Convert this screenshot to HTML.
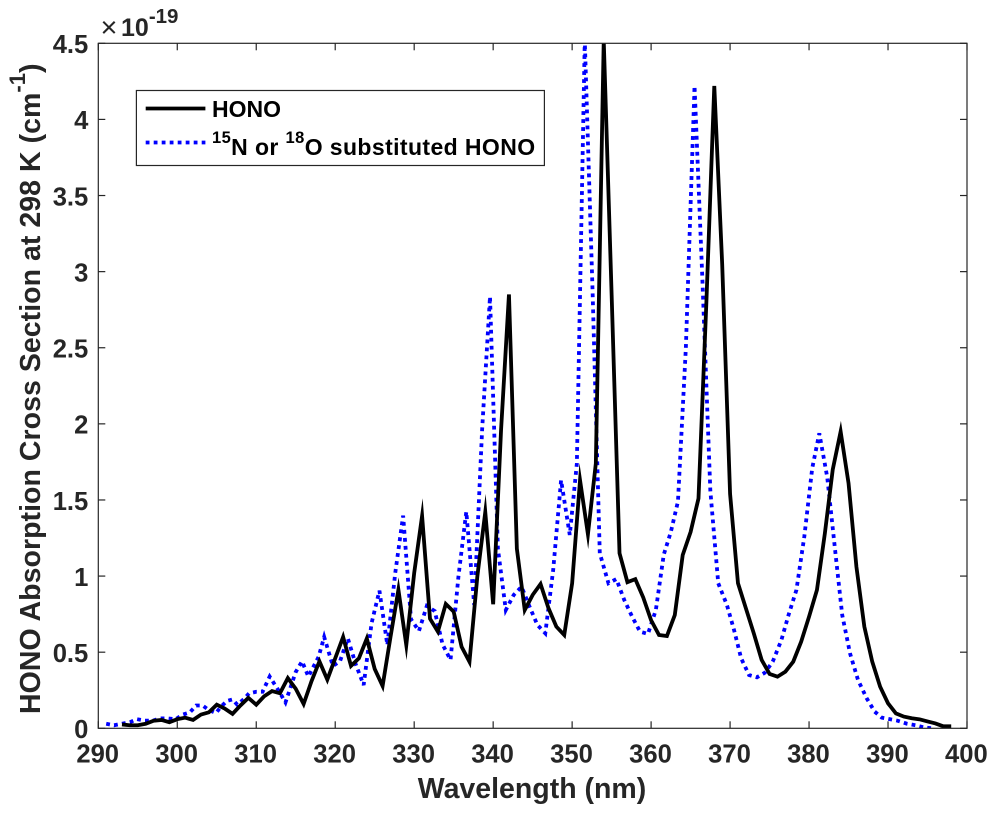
<!DOCTYPE html>
<html>
<head>
<meta charset="utf-8">
<title>HONO Absorption Cross Section</title>
<style>
html,body{margin:0;padding:0;background:#fff;width:997px;height:814px;overflow:hidden}
svg{display:block}
text{font-family:"Liberation Sans",Arial,sans-serif;font-weight:bold}
.tick{font-size:25.6px;fill:#262626}
.title{font-size:28.5px;fill:#262626}
.leg{font-size:23px;fill:#000}
</style>
</head>
<body>
<svg id="chart" width="997" height="814" viewBox="0 0 997 814" xmlns="http://www.w3.org/2000/svg">
  <defs>
    <clipPath id="plot-clip"><rect x="98.3" y="43.3" width="868.7" height="685"/></clipPath>
  </defs>
  <rect x="0" y="0" width="997" height="814" fill="#fff"/>
  <g id="ticks"></g>
  <g id="series" clip-path="url(#plot-clip)"></g>
  <rect x="98.3" y="43.3" width="868.7" height="685" fill="none" stroke="#262626" stroke-width="1.2"/>

  <text x="100.5" y="37" font-size="29" style="font-weight:normal;fill:#262626">×</text>
  <text x="121" y="36" font-size="25" fill="#262626">10<tspan font-size="20.5" dy="-13">-19</tspan></text>

  <text class="title" x="532" y="798" text-anchor="middle">Wavelength (nm)</text>
  <text class="title" transform="translate(40,714) rotate(-90)" text-anchor="start" style="letter-spacing:0.04px">HONO Absorption Cross Section at 298 K (cm<tspan font-size="22" dy="-15">-1</tspan><tspan dy="15">)</tspan></text>

  <g>
    <rect x="136.4" y="90.5" width="408" height="75" fill="#fff" stroke="#262626" stroke-width="1.2"/>
    <line x1="145.7" y1="108.5" x2="205.4" y2="108.5" stroke="#000" stroke-width="3.8"/>
    <text class="leg" x="212" y="117">HONO</text>
    <line x1="145.7" y1="142.5" x2="205.4" y2="142.5" stroke="#0000ff" stroke-width="3.8" stroke-dasharray="3.8 4.2"/>
    <text class="leg" x="212" y="155" style="letter-spacing:0.4px"><tspan font-size="16.5" dy="-12">15</tspan><tspan dy="12">N or </tspan><tspan font-size="16.5" dy="-12">18</tspan><tspan dy="12">O substituted HONO</tspan></text>
  </g>
</svg>
<script>
var xTickLabels = [290,300,310,320,330,340,350,360,370,380,390,400];
var yTickLabels = [0,0.5,1,1.5,2,2.5,3,3.5,4,4.5];

var honoWavelengths = [293,294,295,296,297,298,299,300,301,302,303,304,305,306,307,308,309,310,311,312,313,314,315,316,317,318,319,320,321,322,323,324,325,326,327,328,329,330,331,332,333,334,335,336,337,338,339,340,341,342,343,344,345,346,347,348,349,350,351,352,353,354,355,356,357,358,359,360,361,362,363,364,365,366,367,368,369,370,371,372,373,374,375,376,377,378,379,380,381,382,383,384,385,386,387,388,389,390,391,392,393,394,395,396,397,398];
var honoValues = [0.025,0.02,0.02,0.03,0.05,0.055,0.04,0.06,0.07,0.055,0.09,0.105,0.155,0.13,0.095,0.15,0.2,0.155,0.21,0.245,0.23,0.33,0.26,0.16,0.31,0.44,0.32,0.46,0.6,0.41,0.46,0.59,0.39,0.278,0.6,0.91,0.547,1.02,1.395,0.72,0.635,0.817,0.766,0.536,0.437,1.0,1.42,0.815,1.96,2.85,1.18,0.777,0.876,0.948,0.79,0.668,0.613,0.953,1.63,1.275,1.74,4.52,2.85,1.15,0.96,0.98,0.86,0.71,0.613,0.606,0.744,1.138,1.29,1.51,2.8,4.22,3.05,1.54,0.953,0.788,0.624,0.449,0.357,0.339,0.372,0.438,0.569,0.733,0.909,1.28,1.7,1.949,1.61,1.06,0.668,0.438,0.273,0.164,0.098,0.077,0.066,0.059,0.045,0.032,0.013,0.013];

var substitutedWavelengths = [291,292,293,294,294.9,295.9,296.9,297.8,298.8,299.8,300.7,301.6,302.4,303.2,304,304.9,305.5,306.3,307,307.6,308.4,309.1,310,310.8,311.7,312.8,313.7,315,315.8,316.6,317.9,318.6,319.7,320.6,321.6,322.6,323.6,324.6,325.6,326.6,327.6,328.6,329.6,330.6,331.6,332.6,333.6,334.6,335.6,336.6,337.6,338.6,339.6,340.6,341.6,342.6,343.6,344.6,345.6,346.6,347.6,348.6,349.7,350.6,351.6,352.6,353.5,354.6,355.6,356.6,357.6,358.6,359.6,360.6,361.6,362.5,363.4,364.4,365.5,366.5,367.5,368.5,369.6,370.5,371.4,372.4,373.4,374.4,375.4,376.5,377.4,378.4,379.4,380.4,381.3,382.3,383.3,384.2,385.2,386.2,387.3,388.3,389.2,390.2,391.2,392.4,393.5,394.6,395.6];
var substitutedValues = [0.03,0.02,0.03,0.04,0.06,0.05,0.05,0.065,0.065,0.06,0.09,0.105,0.15,0.15,0.12,0.1,0.14,0.18,0.19,0.155,0.19,0.23,0.24,0.24,0.34,0.25,0.17,0.37,0.44,0.34,0.47,0.6,0.41,0.44,0.59,0.42,0.284,0.69,0.904,0.547,1.02,1.397,0.716,0.639,0.804,0.77,0.55,0.449,0.996,1.423,0.81,1.96,2.836,1.18,0.777,0.876,0.93,0.8,0.679,0.624,1.04,1.63,1.27,1.74,4.52,2.85,1.15,0.953,0.98,0.843,0.733,0.635,0.62,0.777,1.14,1.29,1.49,2.5,4.22,2.94,1.56,0.953,0.81,0.646,0.46,0.35,0.335,0.365,0.438,0.58,0.744,0.909,1.26,1.708,1.938,1.65,1.17,0.744,0.49,0.317,0.197,0.11,0.07,0.06,0.05,0.03,0.02,0.005,0];

var SVG_NS = 'http://www.w3.org/2000/svg';
var plotLeft = 98.3, plotRight = 967, plotTop = 43.3, plotBottom = 728.3;
var xMin = 290, xMax = 400, yMin = 0, yMax = 4.5;

function xScale(v){ return plotLeft + (v - xMin) / (xMax - xMin) * (plotRight - plotLeft); }
function yScale(v){ return plotBottom - (v - yMin) / (yMax - yMin) * (plotBottom - plotTop); }

function tickLine(parent, x1, y1, x2, y2){
  var l = document.createElementNS(SVG_NS, 'line');
  l.setAttribute('x1', x1);
  l.setAttribute('y1', y1);
  l.setAttribute('x2', x2);
  l.setAttribute('y2', y2);
  l.setAttribute('stroke', '#262626');
  l.setAttribute('stroke-width', '1.2');
  
  
  parent.appendChild(l);
}

function tickLabel(parent, x, y, anchor, str){
  var t = document.createElementNS(SVG_NS, 'text');
  t.setAttribute('class', 'tick');
  t.setAttribute('x', x);
  t.setAttribute('y', y);
  t.setAttribute('text-anchor', anchor);
  
  
  t.textContent = str;
  parent.appendChild(t);
}

function linePath(xs, ys){
  var d = '';
  for (var i = 0; i < xs.length; i++) {
    d += (i ? 'L' : 'M') + xScale(xs[i]).toFixed(2) + ' ' + yScale(ys[i]).toFixed(2);
  }
  return d;
}

var tickGroup = document.getElementById('ticks');
var seriesGroup = document.getElementById('series');

xTickLabels.forEach(function(v){
  var x = xScale(v);
  tickLine(tickGroup, x, plotBottom, x, plotBottom - 7);
  tickLine(tickGroup, x, plotTop, x, plotTop + 7);
  tickLabel(tickGroup, x - 0.6, 762.5, 'middle', String(v));
});

yTickLabels.forEach(function(v){
  var y = yScale(v);
  tickLine(tickGroup, plotLeft, y, plotLeft + 7, y);
  tickLine(tickGroup, plotRight, y, plotRight - 7, y);
  tickLabel(tickGroup, 88.3, y + 9.8, 'end', String(v));
});

var substitutedLine = document.createElementNS(SVG_NS, 'path');
substitutedLine.setAttribute('d', linePath(substitutedWavelengths, substitutedValues));
substitutedLine.setAttribute('fill', 'none');
substitutedLine.setAttribute('stroke', '#0000ff');
substitutedLine.setAttribute('stroke-width', '3.8');
substitutedLine.setAttribute('stroke-dasharray', '3.8 4.2');


seriesGroup.appendChild(substitutedLine);

var honoLine = document.createElementNS(SVG_NS, 'path');
honoLine.setAttribute('d', linePath(honoWavelengths, honoValues));
honoLine.setAttribute('fill', 'none');
honoLine.setAttribute('stroke', '#000');
honoLine.setAttribute('stroke-width', '3.8');
honoLine.setAttribute('stroke-linejoin', 'miter');
honoLine.setAttribute('stroke-miterlimit', '10');


seriesGroup.appendChild(honoLine);
</script>
</body>
</html>
